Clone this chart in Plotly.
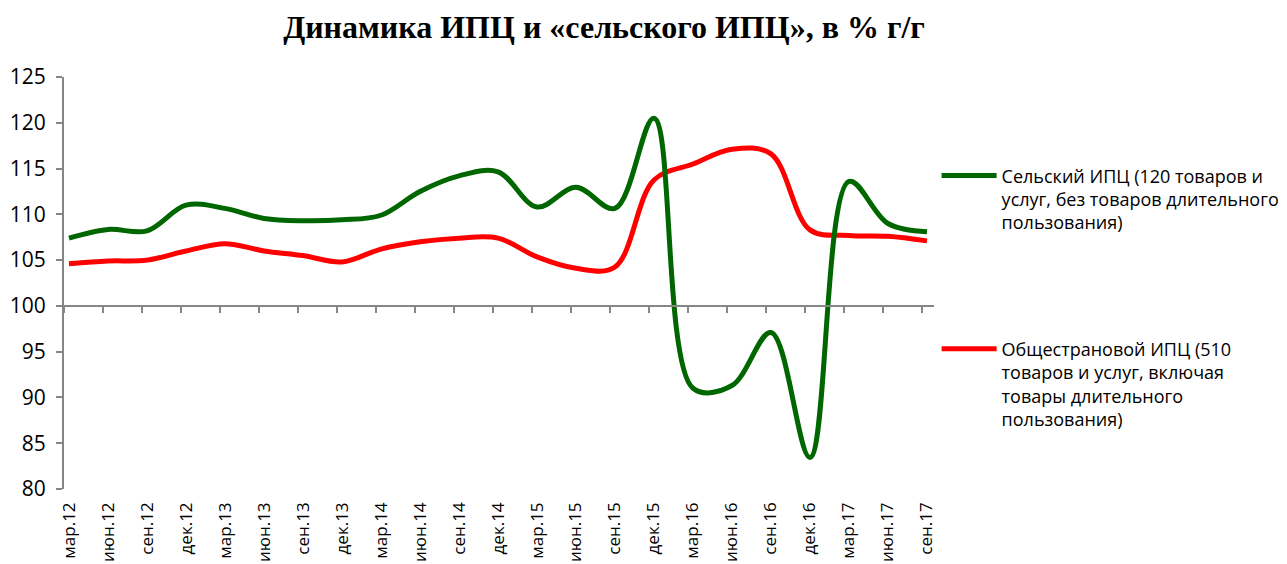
import plotly.graph_objects as go

categories = ["мар.12", "июн.12", "сен.12", "дек.12", "мар.13", "июн.13", "сен.13", "дек.13",
              "мар.14", "июн.14", "сен.14", "дек.14", "мар.15", "июн.15", "сен.15", "дек.15",
              "мар.16", "июн.16", "сен.16", "дек.16", "мар.17", "июн.17", "сен.17"]

rural_cpi = [107.4, 108.35, 108.2, 111.0, 110.65, 109.55, 109.3, 109.4,
             109.9, 112.5, 114.2, 114.65, 110.8, 112.95, 110.65, 120.5,
             91.0, 91.3, 97.1, 83.45, 113.6, 109.0, 108.1]

national_cpi = [104.6, 104.9, 105.0, 106.0, 106.8, 106.0, 105.5, 104.8,
                106.2, 107.0, 107.4, 107.4, 105.35, 104.1, 104.25, 113.75,
                115.5, 117.1, 116.6, 108.3, 107.7, 107.6, 107.1]

name_rural = "Сельский ИПЦ (120 товаров и<br>услуг, без товаров длительного<br>пользования)"
name_national = "Общестрановой ИПЦ (510<br>товаров и услуг, включая<br>товары длительного<br>пользования)"

title_text = "<b>Динамика ИПЦ и «сельского ИПЦ», в % г/г</b>"

idx = list(range(len(categories)))
x_range = [-0.128, 22.18]

W, H = 1279, 556

fig = go.Figure()
fig.add_trace(go.Scatter(
    x=idx, y=rural_cpi, name=name_rural, mode="lines",
    line=dict(color="#006600", width=5, shape="spline", smoothing=1.0),
    xaxis="x2", yaxis="y", legendgroup="a"))
fig.add_trace(go.Scatter(
    x=idx, y=national_cpi, name=name_national, mode="lines",
    line=dict(color="#FF0000", width=5, shape="spline", smoothing=1.0),
    xaxis="x", yaxis="y", legendgroup="b"))

axis_gray = "#868686"
font_main = "Open Sans, Noto Sans, sans-serif"

fig.update_layout(
    width=W, height=H,
    paper_bgcolor="white", plot_bgcolor="white",
    margin=dict(l=56, r=353, t=69, b=75, autoexpand=False),
    title=dict(text=title_text, x=596 / W, xanchor="center", y=1 - 19 / H, yanchor="middle",
               font=dict(family="Liberation Serif, Times New Roman, serif", size=32, color="black")),
    xaxis=dict(range=x_range, anchor="free", position=(100 - 80) / 45,
               showline=True, linecolor=axis_gray, linewidth=2,
               ticks="outside", ticklen=6, tickcolor=axis_gray, tickwidth=2,
               tickmode="linear", tick0=-0.128, dtick=1, automargin=False,
               showticklabels=False, showgrid=False, zeroline=False),
    xaxis2=dict(range=x_range, overlaying="x", anchor="y", side="bottom",
                tickmode="array", tickvals=idx, ticktext=categories, tickangle=-90,
                tickfont=dict(family=font_main, size=17, color="black"),
                showline=False, ticks="", showgrid=False, zeroline=False,
                ticklabelstandoff=9, automargin=False),
    yaxis=dict(range=[80, 125], tickmode="linear", tick0=80, dtick=5,
               showline=True, linecolor=axis_gray, linewidth=2,
               ticks="outside", ticklen=6, tickcolor=axis_gray, tickwidth=2,
               tickfont=dict(family=font_main, size=21, color="black"),
               ticklabelstandoff=6,
               showgrid=False, zeroline=False, automargin=False),
    legend=dict(x=1.003, xanchor="left", y=0.805, yanchor="top",
                font=dict(family=font_main, size=18, color="black"),
                tracegroupgap=100, valign="top", itemwidth=55,
                bgcolor="rgba(0,0,0,0)"),
    showlegend=True,
)

fig.write_html("out.html")
